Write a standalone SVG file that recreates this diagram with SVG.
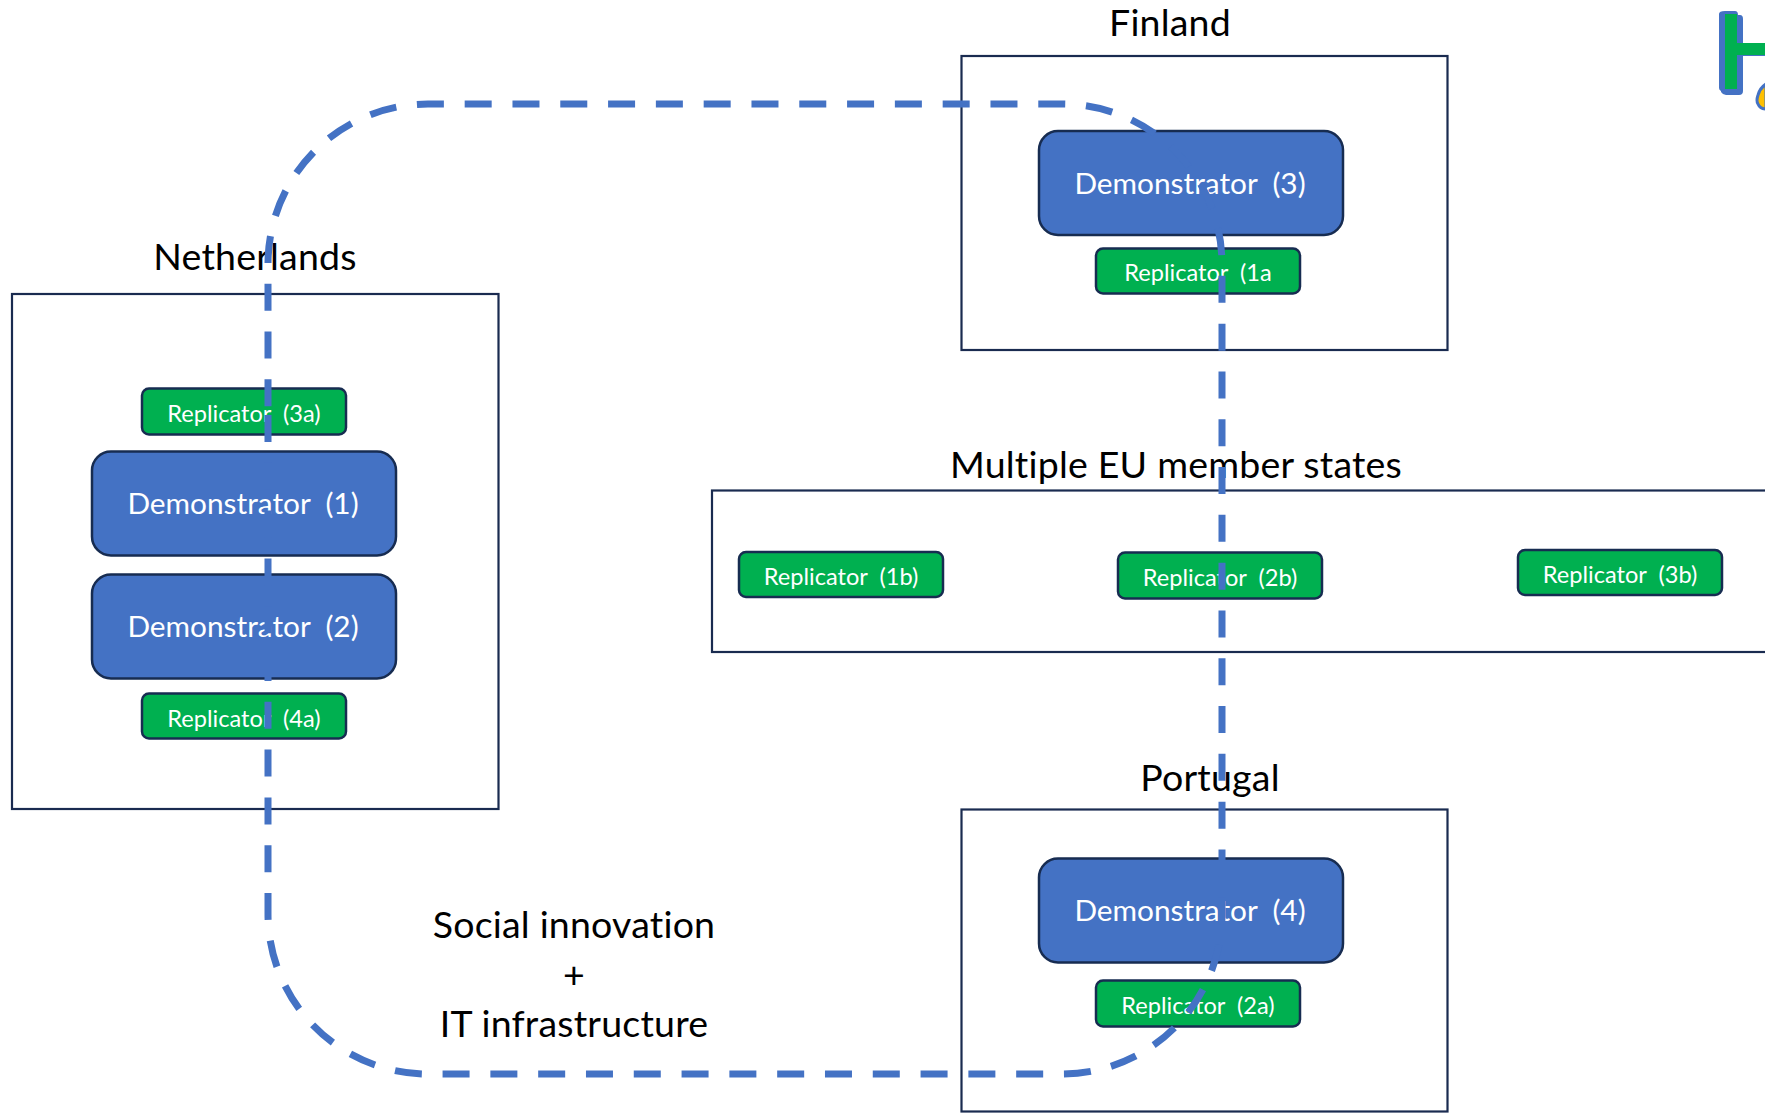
<svg xmlns="http://www.w3.org/2000/svg" width="1765" height="1113" viewBox="0 0 1765 1113">
<style>
text{font-family:Lato,"Liberation Sans",sans-serif;text-anchor:middle;white-space:pre;font-variant-ligatures:none}
.box{fill:none;stroke:#1a2b50;stroke-width:2.2}
.demo{fill:#4472c4;stroke:#172c51;stroke-width:2.5}
.rep{fill:#00b050;stroke:#172c51;stroke-width:2.5}
.dt{fill:#fff;font-size:29.800px}
.rt{fill:#fff;font-size:23.600px}
.lb{fill:#000;font-size:37.500px;letter-spacing:.2px}
.conn{fill:none;stroke:#4472c4;stroke-width:7;stroke-dasharray:27 20.8}
</style>
<rect width="1765" height="1113" fill="#fff"/>
<g id="finland"><rect class="box" x="961.5" y="56" width="486" height="294"/><text class="lb" x="1170" y="36">Finland</text></g>
<g id="netherlands"><rect class="box" x="12" y="294" width="486.500" height="515"/><text class="lb" x="255" y="270">Netherlands</text></g>
<g id="eu"><rect class="box" x="712" y="490.500" width="1100" height="161.500"/><text class="lb" x="1176" y="477.500">Multiple EU member states</text></g>
<g id="portugal"><rect class="box" x="961.500" y="809.500" width="486" height="302"/><text class="lb" x="1210" y="791">Portugal</text></g>
<g id="demo3"><rect class="demo" x="1039" y="131" width="304" height="104" rx="19"/><text class="dt" x="1190" y="194">Demonstrator  (3)</text></g>
<g id="rep1a"><rect class="rep" x="1096" y="248.500" width="204" height="45" rx="7"/><text class="rt" x="1198" y="281">Replicator  (1a</text></g>
<g id="rep3a"><rect class="rep" x="142" y="388.500" width="204" height="46" rx="7"/><text class="rt" x="244" y="422">Replicator  (3a)</text></g>
<g id="demo1"><rect class="demo" x="92" y="451.500" width="304" height="104" rx="19"/><text class="dt" x="243" y="514">Demonstrator  (1)</text></g>
<g id="demo2"><rect class="demo" x="92" y="574.500" width="304" height="104" rx="19"/><text class="dt" x="243" y="637">Demonstrator  (2)</text></g>
<g id="rep4a"><rect class="rep" x="142" y="693.500" width="204" height="45" rx="7"/><text class="rt" x="244" y="727">Replicator  (4a)</text></g>
<g id="rep1b"><rect class="rep" x="739" y="552" width="204" height="45" rx="7"/><text class="rt" x="841" y="585">Replicator  (1b)</text></g>
<g id="rep2b"><rect class="rep" x="1118" y="552.500" width="204" height="46" rx="7"/><text class="rt" x="1220" y="586">Replicator  (2b)</text></g>
<g id="rep3b"><rect class="rep" x="1518" y="550" width="204" height="45" rx="7"/><text class="rt" x="1620" y="583">Replicator  (3b)</text></g>
<g id="demo4"><rect class="demo" x="1039" y="858.500" width="304" height="104" rx="19"/><text class="dt" x="1190" y="921">Demonstrator  (4)</text></g>
<g id="rep2a"><rect class="rep" x="1096" y="980.500" width="204" height="46" rx="7"/><text class="rt" x="1198" y="1014">Replicator  (2a)</text></g>
<g id="social"><text class="lb" x="574" y="937.500">Social innovation</text><text class="lb" x="574" y="988">+</text><text class="lb" x="574" y="1037">IT infrastructure</text></g>
<g id="logo">
<path d="M1725 11h10q3 0 3 4h2q3 0 3 4v24h28v13h-28v35q0 4-4 4h-13q-3 0-5-3v-1q-2-1-2-3V14q0-3 6-3z" fill="#4472c4"/>
<path d="M1725 14h12v29h30v12h-30v34h-12z" fill="#00b050"/>
<path d="M1758 104q-2-3 0-9 2-7 8-11v25q-6 0-8-5z" fill="#ffc000" stroke="#4472c4" stroke-width="3"/>
</g>
<g id="connectors"><path class="conn" d="M268 415V914A160 160 0 0 0 428 1074H1062A160 160 0 0 0 1222 914V264A160 160 0 0 0 1062 104H428A160 160 0 0 0 268 264V415"/></g>
</svg>
